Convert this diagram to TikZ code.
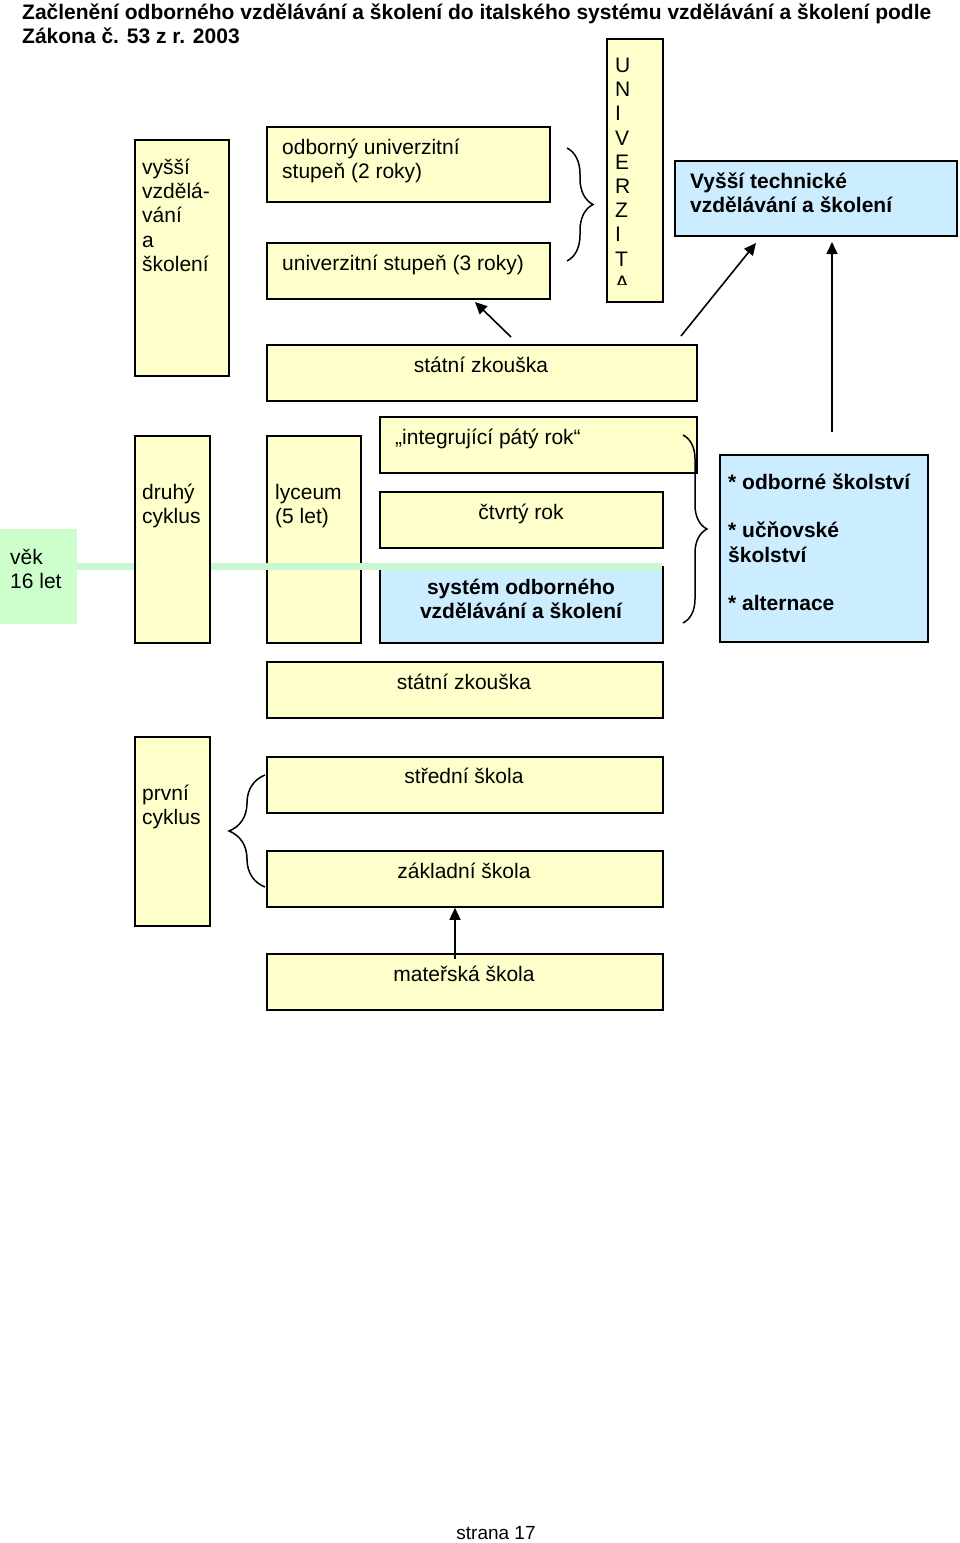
\documentclass[tikz,border=0pt]{standalone}
\usepackage{fontspec}
\setmainfont{Liberation Sans}
\usetikzlibrary{decorations.pathreplacing,arrows.meta}
\definecolor{boxyellow}{HTML}{FFFFCC}
\definecolor{boxblue}{HTML}{CCECFF}
\definecolor{agegreen}{HTML}{CCFFCC}
\definecolor{bargreen}{HTML}{C8F7D2}
\begin{document}
\begin{tikzpicture}[x=1pt,y=-1pt,
  box/.style={draw=black, line width=1.8pt, fill=boxyellow, inner sep=0pt, anchor=north west},
  bluebox/.style={box, fill=boxblue},
  txt/.style={font=\fontsize{21}{24.2}\selectfont, inner sep=0pt, anchor=base west, align=left},
  ctxt/.style={txt, anchor=base, align=center},
  btxt/.style={txt, font=\fontsize{21}{24.2}\selectfont\bfseries},
  bctxt/.style={ctxt, font=\fontsize{21}{24.2}\selectfont\bfseries},
  arr/.style={line width=1.6pt, -{Triangle[length=12pt,width=11pt]}},
  brc/.style={line width=1.5pt, decorate, decoration={brace, amplitude=#1}},
]
\useasboundingbox (0,0) rectangle (960,1543);

% title (anchor = baseline of last line)
\node[btxt] (title) at (22,43.7) {Začlenění odborného vzdělávání a školení do italského systému vzdělávání a školení podle\\Zákona č. 53 z r. 2003};

% top part
\node[box, minimum width=94pt, minimum height=236pt] (vyssi) at (134,139) {};
\node[txt] (vyssit) at (142,271.3) {vyšší\\vzdělá-\\vání\\a\\školení};
\node[box, minimum width=283pt, minimum height=75pt] (univ2) at (266,126) {};
\node[txt] (univ2t) at (282,178.7) {odborný univerzitní\\stupeň (2 roky)};
\node[box, minimum width=283pt, minimum height=56pt] (univ3) at (266,242) {};
\node[txt] (univ3t) at (282,270.5) {univerzitní stupeň (3 roky)};
\draw[brc=26pt] (567,148) -- (567,261);
\node[box, minimum width=56pt, minimum height=263pt] (uni) at (606,38) {};
\begin{scope}
\clip (606,38) rectangle (662,284);
\node[txt] (unit) at (615,290.3) {U\\N\\I\\V\\E\\R\\Z\\I\\T\\A};
\end{scope}
\node[bluebox, minimum width=282pt, minimum height=75pt] (vtv) at (674,160) {};
\node[btxt] (vtvt) at (690,212.7) {Vyšší technické\\vzdělávání a školení};

\node[box, minimum width=430pt, minimum height=56pt] (sz1) at (266,344) {};
\node[ctxt] (sz1t) at (481,372.5) {státní zkouška};

\coordinate (a1s) at (511,337);
\coordinate (a1e) at (475,302);
\draw[arr] (a1s) -- (a1e);
\coordinate (a2s) at (681,336);
\coordinate (a2e) at (756,243);
\draw[arr] (a2s) -- (a2e);
\coordinate (a3s) at (832,432);
\coordinate (a3e) at (832,242);
\draw[arr] (a3s) -- (a3e);

% middle part
\node[box, minimum width=317pt, minimum height=56pt] (integ) at (379,416) {};
\node[txt] (integt) at (395,444.5) {„integrující pátý rok“};
\node[box, minimum width=283pt, minimum height=56pt] (ctvrty) at (379,491) {};
\node[ctxt] (ctvrtyt) at (521,519.5) {čtvrtý rok};
\node[bluebox, minimum width=283pt, minimum height=76pt] (sys) at (379,566) {};
\node[bctxt] (syst) at (521,618.7) {systém odborného\\vzdělávání a školení};
\node[box, minimum width=94pt, minimum height=207pt] (lyc) at (266,435) {};
\node[txt] (lyct) at (275,523.7) {lyceum\\(5 let)};
\node[fill=agegreen, minimum width=77pt, minimum height=95pt, inner sep=0pt, anchor=north west] (vek) at (0,529) {};
\node[txt] (vekt) at (10,588.7) {věk\\16 let};
\fill[bargreen] (77,563) rectangle (662,570);
\node[box, minimum width=75pt, minimum height=207pt] (druhy) at (134,435) {};
\node[txt] (druhyt) at (142,523.7) {druhý\\cyklus};
\draw[brc=24pt] (683,435) -- (683,623);
\node[bluebox, minimum width=208pt, minimum height=187pt] (list) at (719,454) {};
\node[btxt] (listt) at (728,610.5) {* odborné školství\\[24.2pt]* učňovské\\školství\\[24.2pt]* alternace};

% lower part
\node[box, minimum width=396pt, minimum height=56pt] (sz2) at (266,661) {};
\node[ctxt] (sz2t) at (464,689.5) {státní zkouška};
\node[box, minimum width=75pt, minimum height=189pt] (prvni) at (134,736) {};
\node[txt] (prvnit) at (142,824.7) {první\\cyklus};
\node[box, minimum width=396pt, minimum height=56pt] (stredni) at (266,756) {};
\node[ctxt] (strednit) at (464,783.5) {střední škola};
\node[box, minimum width=396pt, minimum height=56pt] (zakl) at (266,850) {};
\node[ctxt] (zaklt) at (464,878.5) {základní škola};
\draw[brc=36pt] (265,887) -- (265,775);
\node[box, minimum width=396pt, minimum height=56pt] (mat) at (266,953) {};
\node[ctxt] (matt) at (464,981.5) {mateřská škola};
\coordinate (a4s) at (455,959);
\draw[arr] (a4s) -- (zakl.south -| a4s);

\node[ctxt, font=\fontsize{19}{22}\selectfont] (strana) at (496,1539) {strana 17};
\end{tikzpicture}
\end{document}
